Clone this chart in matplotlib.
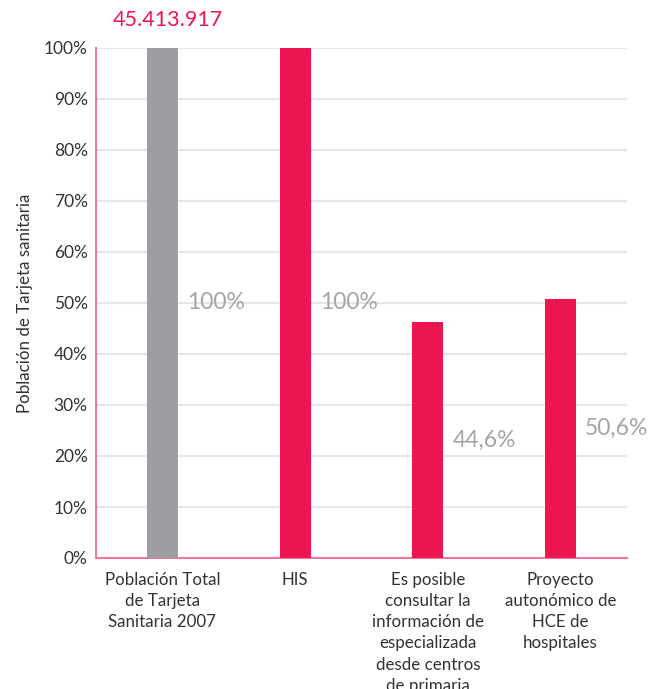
import matplotlib.pyplot as plt
import numpy as np

plt.rcParams['font.family'] = ['Lato', 'DejaVu Sans']

categories = ["Población Total\nde Tarjeta\nSanitaria 2007", "HIS",
              "Es posible\nconsultar la\ninformación de\nespecializada\ndesde centros\nde primaria",
              "Proyecto\nautonómico de\nHCE de\nhospitales"]
values = [100, 100, 46.3, 50.8]
value_labels = ["100%", "100%", "44,6%", "50,6%"]
total_label = "45.413.917"
yticks = list(range(0, 101, 10))

pink = "#ed1650"
grey = "#9d9ea2"
colors = [grey, pink, pink, pink]

fig = plt.figure(figsize=(6.53, 6.89), dpi=100)
ax = fig.add_axes([96 / 653, 1 - 558 / 689, 531 / 653, 510 / 689])

x = np.arange(len(categories))
ax.bar(x, values, width=0.233, color=colors, zorder=3)

for xi, v, lab in zip(x, values, value_labels):
    ax.text(xi + 0.185, v / 2, lab, ha='left', va='center',
            fontsize=16.5, color="#a5a5a5", zorder=4)

ax.text(0.04, 103.5, total_label, ha='center', va='bottom',
        fontsize=15.5, color=pink, clip_on=False)

ax.set_xlim(-0.5, 3.5)
ax.set_ylim(0, 100)
ax.set_yticks(yticks)
ax.set_yticklabels([f"{t}%" for t in yticks], fontsize=12.5, color="#333333")
ax.set_xticks(x)
ax.set_xticklabels(categories, fontsize=12.2, color="#333333", linespacing=1.4,
                   va='top')
ax.tick_params(length=0, pad=6)
ax.tick_params(axis='x', pad=10)

ax.yaxis.grid(True, color="#e6e6e6", lw=1.5, zorder=0)
ax.set_axisbelow(True)
for s in ['top', 'right']:
    ax.spines[s].set_visible(False)
for s in ['left', 'bottom']:
    ax.spines[s].set_color("#f07898")
    ax.spines[s].set_linewidth(1.5)

ax.set_ylabel("Población de Tarjeta sanitaria", fontsize=12.2, color="#333333",
              labelpad=8)

fig.savefig("out.png", dpi=100)
